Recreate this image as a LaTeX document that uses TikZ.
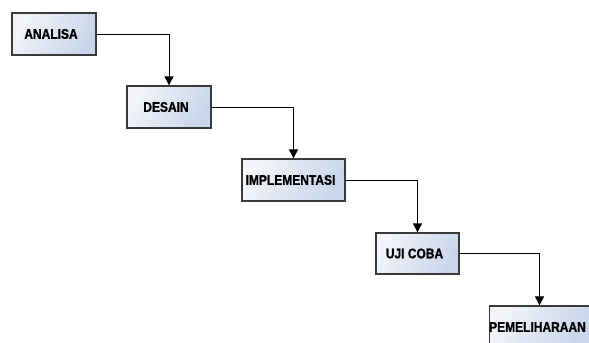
\documentclass[tikz,border=0pt]{standalone}
\usepackage{fontspec}
\newfontfamily\boxfont[FakeStretch=0.86, BoldFeatures={FakeBold=1.2}]{Liberation Sans}
\usetikzlibrary{arrows.meta}
\definecolor{boxL}{HTML}{F2F4F8}
\definecolor{boxR}{HTML}{C8D5EA}
\definecolor{boxLine}{HTML}{3A3A3A}
\tikzset{
  stage/.style={draw=boxLine, line width=1.3bp, left color=boxL, right color=boxR, shading angle=60,
    minimum height=42bp, inner sep=0pt, font=\boxfont\bfseries\fontsize{14}{15}\selectfont},
  flow/.style={line width=0.9bp, -{Triangle[length=9bp,width=9bp]}}
}
\begin{document}
\begin{tikzpicture}[x=1bp,y=-1bp]
\useasboundingbox (0,0) rectangle (589,342);
\clip (0,0) rectangle (589,342);
\fill[white] (0,0) rectangle (589,342);
\node[stage, minimum width=84bp] (a) at (54,34) {ANALISA\kern6bp};
\node[stage, minimum width=84bp] (d) at (169,107) {DESAIN\kern6bp};
\node[stage, minimum width=103bp] (i) at (293.5,180) {IMPLEMENTASI\kern6bp};
\node[stage, minimum width=83bp, minimum height=41bp] (u) at (417.5,253.5) {UJI COBA\kern6bp};
\node[stage, minimum width=97bp] (p) at (539.5,327) {PEMELIHARAAN\kern4bp};
\draw[flow] (a.east) -| (d.north);
\draw[flow] (d.east) -| (i.north);
\draw[flow] (i.east) -| (u.north);
\draw[flow] (u.east) -| (p.north);
\end{tikzpicture}
\end{document}
